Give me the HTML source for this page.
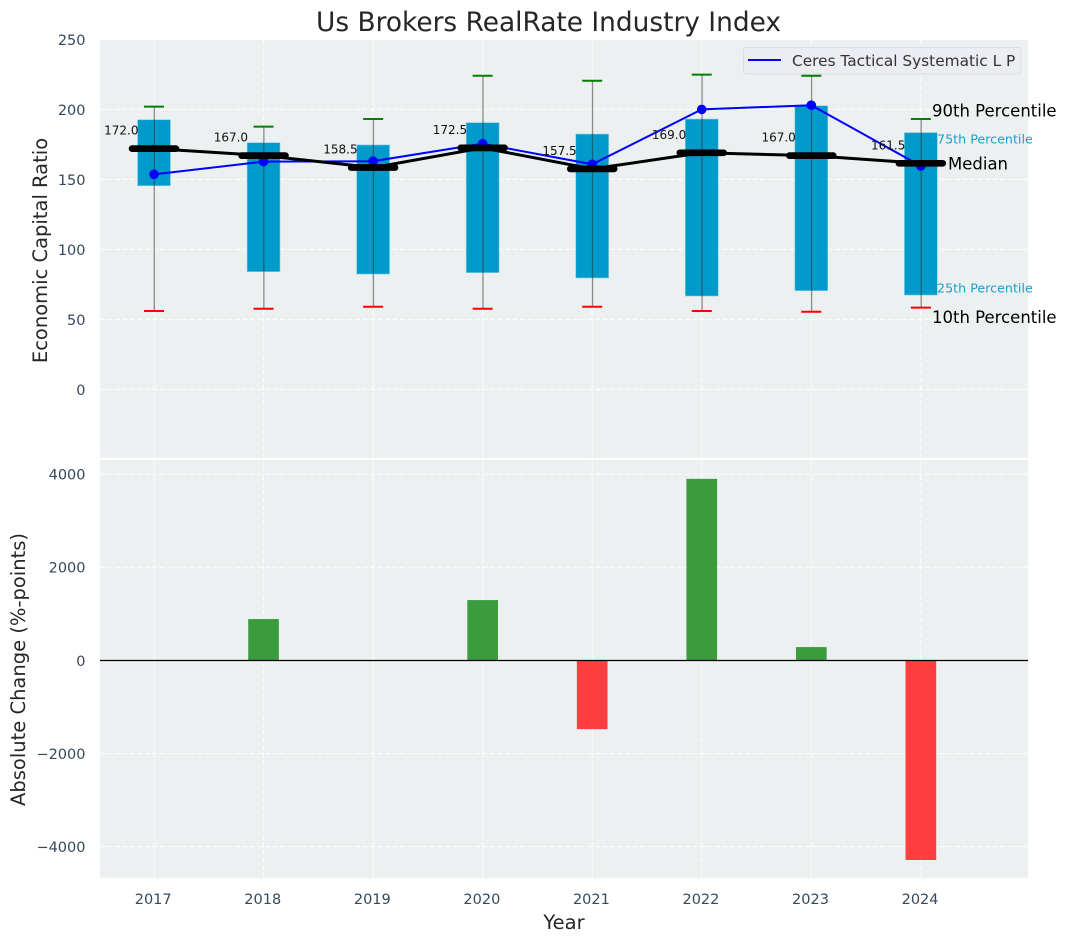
<!DOCTYPE html>
<html>
<head>
<meta charset="utf-8">
<title>Us Brokers RealRate Industry Index</title>
<style>
html,body{margin:0;padding:0;background:#fff;}
svg{display:block;}
text{font-family:"DejaVu Sans","Liberation Sans",sans-serif;}
.tick{font-size:14.5px;fill:#34495e;}
.axt{font-size:19.5px;fill:#262626;}
.val{font-size:12px;fill:#111;}
</style>
</head>
<body>
<svg id="chart" width="1067" height="942" viewBox="0 0 1067 942" xmlns="http://www.w3.org/2000/svg">
<rect x="0" y="0" width="1067" height="942" fill="#ffffff"/>
<rect x="100" y="40" width="928" height="418" fill="#ecf0f1"/>
<rect x="100" y="460" width="928" height="418" fill="#ecf0f1"/>
<g id="grid"></g>
<g id="boxes"></g>
<g id="whiskers"></g>
<g id="series"></g>
<g id="medians"></g>
<g id="bars"></g>
<line x1="100" x2="1028" y1="660.5" y2="660.5" stroke="#000" stroke-width="1.3"/>
<g id="ticks"></g>
<text x="548.5" y="31" text-anchor="middle" font-size="26.4" fill="#262626">Us Brokers RealRate Industry Index</text>
<text class="axt" transform="translate(47,250.5) rotate(-90)" text-anchor="middle">Economic Capital Ratio</text>
<text class="axt" transform="translate(25,669.5) rotate(-90)" text-anchor="middle">Absolute Change (%-points)</text>
<text class="axt" x="564" y="929" text-anchor="middle">Year</text>
<g>
<rect x="743.5" y="47.5" width="277.5" height="26.5" rx="3" fill="#ebedf2" stroke="#dcdde0" stroke-width="1"/>
<line x1="748" x2="781" y1="60" y2="60" stroke="#0000ff" stroke-width="2"/>
<text x="792" y="66" font-size="15.35" fill="#333333">Ceres Tactical Systematic L P</text>
</g>
<g>
<text x="932" y="116.5" font-size="16.5" fill="#000">90th Percentile</text>
<text x="937" y="143.5" font-size="12.7" fill="#1a9fce">75th Percentile</text>
<text x="948" y="169.5" font-size="16.5" fill="#000">Median</text>
<text x="937" y="292.5" font-size="12.7" fill="#1a9fce">25th Percentile</text>
<text x="932" y="323" font-size="16.5" fill="#000">10th Percentile</text>
</g>
</svg>
<script>
var years = [2017, 2018, 2019, 2020, 2021, 2022, 2023, 2024];
var p10 = [56, 57.6, 59, 57.6, 59, 56, 55.5, 58.4];
var p25 = [145.5, 84.1, 82.4, 83.4, 79.6, 66.7, 70.5, 67.4];
var p50 = [172.0, 167.0, 158.5, 172.5, 157.5, 169.0, 167.0, 161.5];
var p75 = [192.6, 176.2, 174.6, 190.5, 182.4, 193.1, 202.6, 183.4];
var p90 = [202, 187.7, 193.1, 224, 220.5, 224.8, 224, 193.1];
var ceres = [153.6, 162.7, 163, 175.5, 160.8, 200, 203, 159.6];
var changes = [0, 888, 0, 1296, -1477, 3900, 286, -4288];
var topTicks = [0, 50, 100, 150, 200, 250];
var bottomTicks = [-4000, -2000, 0, 2000, 4000];

var NS = 'http://www.w3.org/2000/svg';
function x(v){ return 154 + (v - 2017) * 109.55; }
function xd(d){ return d * 109.55; }
function yT(v){ return 389.4 - v * 1.4; }
function yB(v){ return 660.4 - v * 0.04655; }
function mk(tag, parent, attrs, txt){
  var e = document.createElementNS(NS, tag);
  for (var k in attrs) e.setAttribute(k, attrs[k]);
  if (txt !== undefined) e.textContent = txt;
  document.getElementById(parent).appendChild(e);
  return e;
}
function fmt(t){ return t < 0 ? '\u2212' + Math.abs(t) : String(t); }

years.forEach(function(yr){
  var a = mk('line', 'grid', {x1:x(yr), x2:x(yr), y1:40, y2:458, stroke:'#fff', 'stroke-width':1.1, 'stroke-dasharray':'5 2.5', 'stroke-opacity':0.85});
  
  
  var b = mk('line', 'grid', {x1:x(yr), x2:x(yr), y1:460, y2:878, stroke:'#fff', 'stroke-width':1.1, 'stroke-dasharray':'5 2.5', 'stroke-opacity':0.85});
  
  
  var t = mk('text', 'ticks', {x:x(yr) - 0.8, y:904, 'text-anchor':'middle', 'class':'tick'}, String(yr));
  
  
});
topTicks.forEach(function(v){
  var g = mk('line', 'grid', {x1:100, x2:1028, y1:yT(v), y2:yT(v), stroke:'#fff', 'stroke-width':1.1, 'stroke-dasharray':'5 2.5', 'stroke-opacity':0.85});
  
  
  var t = mk('text', 'ticks', {x:85.5, y:yT(v) + 5.4, 'text-anchor':'end', 'class':'tick'}, fmt(v));
  
  
});
bottomTicks.forEach(function(v){
  var g = mk('line', 'grid', {x1:100, x2:1028, y1:yB(v), y2:yB(v), stroke:'#fff', 'stroke-width':1.1, 'stroke-dasharray':'5 2.5', 'stroke-opacity':0.85});
  
  
  var t = mk('text', 'ticks', {x:85.5, y:yB(v) + 5.4, 'text-anchor':'end', 'class':'tick'}, fmt(v));
  
  
});

years.forEach(function(yr, i){
  var bw = xd(0.3);
  var r = mk('rect', 'boxes', {x:x(yr) - bw / 2, y:yT(p75[i]), width:bw, height:yT(p25[i]) - yT(p75[i]), fill:'#009bcb', stroke:'#7fcde5', 'stroke-width':0.6});
  
  
  var w = mk('line', 'whiskers', {x1:x(yr) + 0.3, x2:x(yr) + 0.3, y1:yT(p90[i]), y2:yT(p10[i]), stroke:'#333', 'stroke-width':1.3, 'stroke-opacity':0.55});
  
  
  var hi = mk('line', 'whiskers', {x1:x(yr) - 10, x2:x(yr) + 10, y1:yT(p90[i]), y2:yT(p90[i]), stroke:'#008000', 'stroke-width':2});
  
  
  var lo = mk('line', 'whiskers', {x1:x(yr) - 10, x2:x(yr) + 10, y1:yT(p10[i]), y2:yT(p10[i]), stroke:'#ff0000', 'stroke-width':2});
  
  
  var label = mk('text', 'medians', {x:x(yr) - 15.5, y:yT(p50[i]) - 14, 'text-anchor':'end', 'class':'val'}, p50[i].toFixed(1));
  
  
  if (changes[i] !== 0) {
    var bh = xd(0.28);
    var top = Math.min(yB(0), yB(changes[i]));
    var bar = mk('rect', 'bars', {x:x(yr) - bh / 2, y:top, width:bh, height:Math.abs(yB(changes[i]) - yB(0)), fill:changes[i] > 0 ? '#3a9c3c' : '#ff3f3f'});
    
    
  }
});

var ceresPts = years.map(function(yr, i){ return x(yr) + ',' + yT(ceres[i]); }).join(' ');
var cl = mk('polyline', 'series', {points:ceresPts, fill:'none', stroke:'#0000ff', 'stroke-width':2});


years.forEach(function(yr, i){
  var c = mk('circle', 'series', {cx:x(yr), cy:yT(ceres[i]), r:4.8, fill:'#0000ff'});
  
  
});

var medPts = years.map(function(yr, i){ return x(yr) + ',' + yT(p50[i]); }).join(' ');
var ml = mk('polyline', 'medians', {points:medPts, fill:'none', stroke:'#000', 'stroke-width':3});


years.forEach(function(yr, i){
  var half = xd(0.2);
  var m = mk('line', 'medians', {x1:x(yr) - half, x2:x(yr) + half, y1:yT(p50[i]), y2:yT(p50[i]), stroke:'#000', 'stroke-width':6.7, 'stroke-linecap':'round'});
  
  
});
</script>
</body>
</html>
